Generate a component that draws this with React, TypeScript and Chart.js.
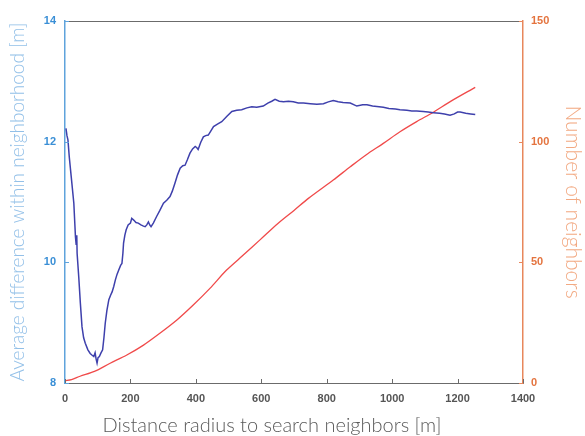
import React, { useEffect, useRef } from "react";
import { Chart, registerables } from "chart.js";

Chart.register(...registerables);

// Blue series: average difference within neighborhood [m]
const blueRadius = [3, 6, 9, 13, 19, 27, 32, 34, 36, 37, 42, 47, 52, 57, 62, 70, 77, 83, 88, 92, 95, 98, 101, 105, 110, 115, 119, 123, 128, 134, 139, 144, 149, 154, 159, 164, 170, 174, 177, 179, 183, 187, 193, 200, 204, 210, 217, 224, 232, 240, 245, 250, 255, 259, 263, 270, 280, 290, 301, 311, 321, 328, 336, 344, 352, 360, 367, 374, 382, 390, 398, 403, 407, 415, 423, 430, 438, 446, 454, 466, 479, 495, 510, 525, 540, 556, 571, 586, 606, 620, 632, 642, 655, 668, 683, 698, 713, 729, 750, 770, 790, 805, 820, 835, 850, 872, 892, 910, 923, 940, 960, 973, 990, 1010, 1024, 1045, 1060, 1075, 1095, 1110, 1126, 1145, 1160, 1177, 1190, 1200, 1208, 1225, 1240, 1254];
const blueValues = [12.22, 12.1, 12.03, 11.75, 11.42, 10.98, 10.42, 10.3, 10.45, 10.15, 9.76, 9.32, 8.93, 8.75, 8.66, 8.55, 8.49, 8.46, 8.44, 8.5, 8.4, 8.33, 8.42, 8.44, 8.5, 8.55, 8.75, 8.99, 9.2, 9.38, 9.45, 9.51, 9.6, 9.71, 9.8, 9.87, 9.95, 9.98, 10.15, 10.32, 10.45, 10.54, 10.62, 10.65, 10.73, 10.7, 10.66, 10.65, 10.62, 10.6, 10.59, 10.62, 10.67, 10.62, 10.59, 10.65, 10.76, 10.86, 10.98, 11.03, 11.09, 11.18, 11.31, 11.45, 11.56, 11.6, 11.61, 11.7, 11.81, 11.88, 11.92, 11.9, 11.87, 11.99, 12.08, 12.1, 12.11, 12.18, 12.25, 12.29, 12.33, 12.42, 12.5, 12.52, 12.53, 12.56, 12.58, 12.57, 12.59, 12.64, 12.67, 12.7, 12.67, 12.66, 12.67, 12.66, 12.64, 12.64, 12.63, 12.62, 12.63, 12.66, 12.68, 12.66, 12.65, 12.64, 12.59, 12.61, 12.61, 12.59, 12.58, 12.57, 12.55, 12.54, 12.53, 12.52, 12.51, 12.51, 12.5, 12.49, 12.48, 12.47, 12.46, 12.44, 12.46, 12.49, 12.49, 12.47, 12.46, 12.45];

// Red series: number of neighbors
const redRadius = [0, 20, 46, 90, 138, 189, 240, 290, 342, 392, 443, 494, 545, 596, 650, 700, 744, 820, 872, 920, 973, 1024, 1075, 1126, 1180, 1254];
const redValues = [1, 1.4, 2.8, 4.8, 8.2, 11.6, 15.7, 20.6, 26.1, 32.3, 39.2, 46.8, 53.0, 59.3, 66.0, 71.5, 76.5, 84.1, 89.6, 94.5, 99.3, 104.1, 108.3, 112.2, 116.8, 122.5];

const xTicks = [0, 200, 400, 600, 800, 1000, 1200, 1400];
const leftTicks = [8, 10, 12, 14];
const rightTicks = [0, 50, 100, 150];

const xTitle = "Distance radius to search neighbors [m]";
const leftTitle = "Average difference within neighborhood [m]";
const rightTitle = "Number of neighbors";

const LEFT_COLOR = "#5fa3dc";
const LEFT_TICK = "#3a8fd6";
const LEFT_TITLE = "#93c0e8";
const RIGHT_COLOR = "#e8875c";
const RIGHT_TICK = "#e4743f";
const RIGHT_TITLE = "#f2a982";
const GRAY = "#6b6b6b";

const framePlugin = {
  id: "frame",
  afterDraw(chart: any) {
    const { ctx, chartArea } = chart;
    const x = chart.scales.x;
    const yL = chart.scales.y;
    const yR = chart.scales.y1;
    ctx.save();
    ctx.lineWidth = 1;
    ctx.strokeStyle = GRAY;
    ctx.beginPath();
    ctx.moveTo(chartArea.left, chartArea.top + 0.5);
    ctx.lineTo(chartArea.right, chartArea.top + 0.5);
    ctx.stroke();
    ctx.beginPath();
    xTicks.forEach((v) => {
      const px = Math.round(x.getPixelForValue(v)) + 0.5;
      ctx.moveTo(px, chartArea.bottom);
      ctx.lineTo(px, chartArea.bottom - 4);
    });
    ctx.stroke();
    ctx.strokeStyle = LEFT_COLOR;
    ctx.beginPath();
    leftTicks.forEach((v) => {
      const py = Math.round(yL.getPixelForValue(v)) + 0.5;
      ctx.moveTo(chartArea.left, py);
      ctx.lineTo(chartArea.left + 4, py);
    });
    ctx.stroke();
    ctx.strokeStyle = RIGHT_COLOR;
    ctx.beginPath();
    rightTicks.forEach((v) => {
      const py = Math.round(yR.getPixelForValue(v)) + 0.5;
      ctx.moveTo(chartArea.right, py);
      ctx.lineTo(chartArea.right - 4, py);
    });
    ctx.stroke();
    ctx.fillStyle = "#5a5a5a";
    ctx.font = "300 20px Lato";
    ctx.textAlign = "center";
    ctx.textBaseline = "middle";
    ctx.fillText(xTitle, 272, 426);
    ctx.restore();
  },
};

const tickFont = { family: "Liberation Sans", size: 11, weight: "bold" as const };

export default function App() {
  const ref = useRef<HTMLCanvasElement>(null);
  useEffect(() => {
    if (!ref.current) return;
    const chart = new Chart(ref.current, {
      type: "line",
      data: {
        datasets: [
          {
            label: leftTitle,
            data: blueRadius.map((r, i) => ({ x: r, y: blueValues[i] })),
            borderColor: "#3e40ac",
            borderWidth: 1.5,
            pointRadius: 0,
            tension: 0,
            yAxisID: "y",
          },
          {
            label: rightTitle,
            data: redRadius.map((r, i) => ({ x: r, y: redValues[i] })),
            borderColor: "#f04a4a",
            borderWidth: 1.3,
            pointRadius: 0,
            tension: 0.3,
            yAxisID: "y1",
          },
        ],
      },
      options: {
        animation: false,
        responsive: true,
        maintainAspectRatio: false,
        layout: { padding: { top: 21, left: 0, right: 0, bottom: 0 } },
        plugins: { legend: { display: false }, tooltip: { enabled: false } },
        scales: {
          x: {
            type: "linear",
            min: 0,
            max: 1400,
            afterFit: (s: any) => { s.height = 53; },
            afterBuildTicks: (s: any) => { s.ticks = xTicks.map((v) => ({ value: v })); },
            grid: { display: false, drawTicks: false },
            border: { display: true, color: GRAY, width: 1 },
            ticks: { color: "#555555", font: tickFont, padding: 9, maxRotation: 0, callback: (v: any) => String(v) },
          },
          y: {
            type: "linear",
            position: "left",
            min: 8,
            max: 14,
            afterFit: (s: any) => { s.width = 65; },
            afterBuildTicks: (s: any) => { s.ticks = leftTicks.map((v) => ({ value: v })); },
            grid: { display: false, drawTicks: false },
            border: { display: true, color: LEFT_COLOR, width: 1.5 },
            ticks: { color: LEFT_TICK, font: tickFont, padding: 9, callback: (v: any) => String(v) },
            title: {
              display: true,
              text: leftTitle,
              color: LEFT_TITLE,
              font: { family: "Lato", size: 19, weight: "300", lineHeight: 1.2 },
              padding: { top: 6, bottom: 0 },
            },
          },
          y1: {
            type: "linear",
            position: "right",
            min: 0,
            max: 150,
            afterFit: (s: any) => { s.width = 62; },
            afterBuildTicks: (s: any) => { s.ticks = rightTicks.map((v) => ({ value: v })); },
            grid: { display: false, drawTicks: false },
            border: { display: true, color: RIGHT_COLOR, width: 1.5 },
            ticks: { color: RIGHT_TICK, font: tickFont, padding: 8, callback: (v: any) => String(v) },
            title: {
              display: true,
              text: rightTitle,
              color: RIGHT_TITLE,
              font: { family: "Lato", size: 21, weight: "300", lineHeight: 1.2 },
              padding: { top: 0, bottom: 0 },
            },
          },
        },
      },
      plugins: [framePlugin],
    });
    return () => chart.destroy();
  }, []);
  return (
    <div style={{ position: "absolute", left: 0, top: 0, width: 585, height: 436, background: "#ffffff" }}>
      <canvas ref={ref} />
    </div>
  );
}
